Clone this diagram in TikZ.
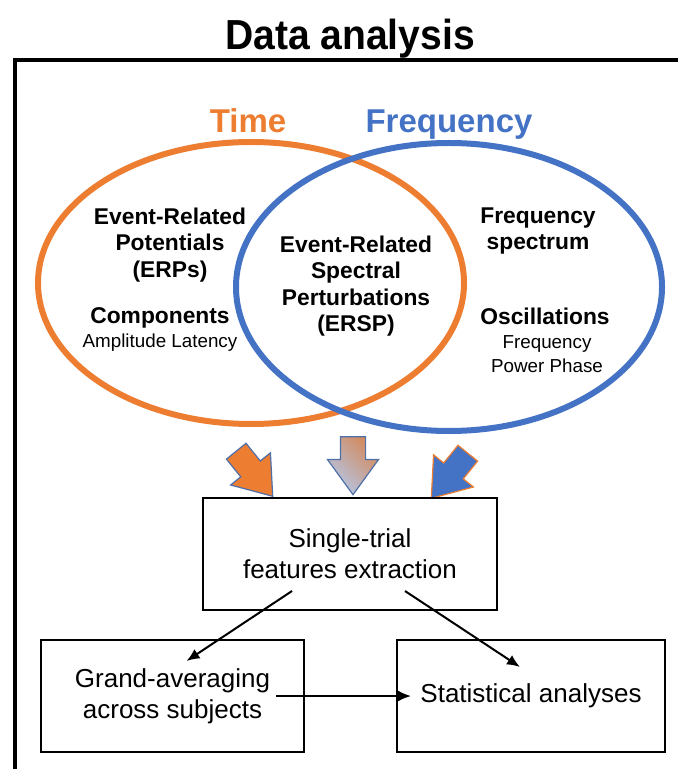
\documentclass[tikz,border=0pt]{standalone}
\usepackage{fontspec}
\setmainfont{Liberation Sans}
\newfontfamily\titlefont{Liberation Sans}[FakeStretch=0.93]
\usetikzlibrary{shapes.arrows, arrows.meta, positioning}
\definecolor{timeorange}{HTML}{ED7D31}
\definecolor{freqblue}{HTML}{4472C4}
\definecolor{arrowedge}{HTML}{4F6FA8}
\definecolor{shadeorange}{HTML}{D38A5E}
\definecolor{shadeblue}{HTML}{B4C7E7}
\tikzset{
	headtext/.style={
			anchor=base,
			inner sep=0pt,
			font=\bfseries\fontsize{16.5}{19}\selectfont
		},
	venntext/.style={
			align=center,
			inner sep=0pt,
			font=\bfseries\fontsize{11.4}{13.25}\selectfont
		},
	vennsub/.style={
			align=center,
			inner sep=0pt,
			font=\fontsize{9.4}{12}\selectfont
		},
	blockarrow/.style={
			single arrow,
			inner sep=0pt,
			inner ysep=6pt,
			minimum width=0pt,
			minimum height=29pt,
			single arrow head extend=6.5pt,
			single arrow tip angle=72,
			line width=0.6pt
		},
	stepbox/.style={
			draw=black,
			line width=1pt,
			align=center,
			minimum height=56pt,
			font=\fontsize{13}{15.5}\selectfont
		},
	flow/.style={
			-{Latex[length=6.5pt,width=5.5pt]},
			line width=1pt
		}
}

\begin{document}
\begin{tikzpicture}[x=0.5pt, y=-0.5pt]
\useasboundingbox (0,0) rectangle (678,769);

% frame and title
\draw[line width=2pt] (15,769) -- (15,60) -- (678,60);
\node[font=\titlefont\bfseries\fontsize{21}{25}\selectfont, anchor=base, inner sep=0pt] (title) at (350,50) {Data analysis};

% the two domains
\draw[timeorange, line width=3pt] (251,283) ellipse [x radius=106.5pt, y radius=70.5pt];
\draw[freqblue, line width=3pt] (449,287) ellipse [x radius=106.5pt, y radius=72pt];
\node[headtext, text=timeorange] (time) at (248,133) {Time};
\node[headtext, text=freqblue] (freq) at (449,133) {Frequency};

\node[venntext] (erp) at (170,245) {Event-Related\\Potentials\\(ERPs)};
\node[venntext] (comp) at (160,318) {Components};
\node[vennsub] (compsub) at (160,343) {Amplitude Latency};
\node[venntext] (ersp) at (356,286) {Event-Related\\Spectral\\Perturbations\\(ERSP)};
\node[venntext] (spec) at (538,231) {Frequency\\spectrum};
\node[venntext] (osc) at (545,316) {Oscillations};
\node[vennsub] (oscsub) at (547,354) {Frequency\\Power Phase};

% block arrows
\node[blockarrow, fill=timeorange, draw=arrowedge, rotate=-51] (arrtime) at (249,467) {};
\node[blockarrow, rotate=-90, top color=shadeorange, bottom color=shadeblue, shading angle=-45, draw=arrowedge] (arrboth) at (353,457) {};
\node[blockarrow, fill=freqblue, draw=timeorange, rotate=-129] (arrfreq) at (455,469) {};

% processing steps
\node[stepbox, minimum width=147pt] (extract) at (350,554) {Single-trial\\features extraction};
\node[stepbox, minimum width=131.5pt] (grand) at (172.5,696) {Grand-averaging\\across subjects};
\node[stepbox, minimum width=134pt] (stat) at (531,696) {Statistical analyses};

\draw[flow] ([xshift=-29pt,yshift=10pt]extract.south) -- ([xshift=7pt,yshift=-11pt]grand.north);
\draw[flow] ([xshift=27.5pt,yshift=10pt]extract.south) -- ([xshift=-5.5pt,yshift=-14pt]stat.north);
\draw[flow] ([xshift=-14.5pt]grand.east) -- ([xshift=7.5pt]stat.west);
\end{tikzpicture}
\end{document}
